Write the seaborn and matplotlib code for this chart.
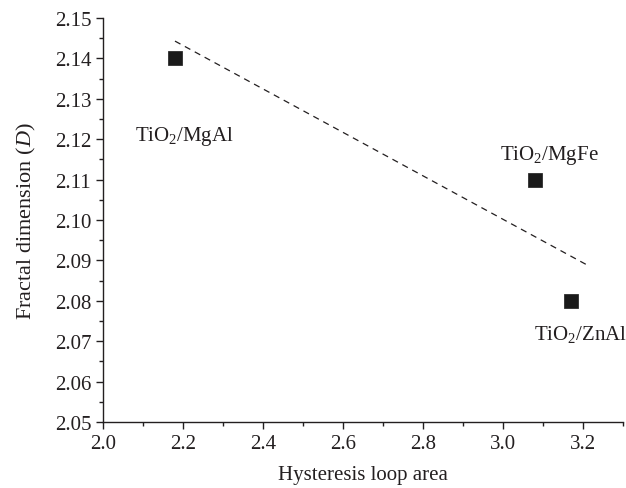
import pandas as pd
import matplotlib
matplotlib.use('Agg')
import matplotlib.pyplot as plt
from matplotlib.ticker import MultipleLocator, FormatStrFormatter
import seaborn as sns

# Data
samples = ['TiO$_2$/MgAl', 'TiO$_2$/MgFe', 'TiO$_2$/ZnAl']
loop_area = [2.18, 3.08, 3.17]
fractal_d = [2.140, 2.110, 2.080]

# Dashed fit line end points
fit_x = [2.18, 3.21]
fit_y = [2.1443, 2.0889]

# Label anchor positions (data coords)
label_x = [2.203, 3.115, 3.193]
label_y = [2.121, 2.1163, 2.0718]

df = pd.DataFrame({'area': loop_area, 'D': fractal_d, 'sample': samples})
fit = pd.DataFrame({'x': fit_x, 'y': fit_y})

sns.set_style('ticks')
plt.rcParams['font.family'] = ['Liberation Serif', 'DejaVu Serif']
plt.rcParams['mathtext.fontset'] = 'custom'
plt.rcParams['mathtext.rm'] = 'Liberation Serif'
plt.rcParams['mathtext.it'] = 'Liberation Serif:italic'

ink = '#231f20'

fig = plt.figure(figsize=(6.26, 4.89), dpi=100)
ax = fig.add_axes([0.1645, 0.135, 0.8305, 0.826])

sns.lineplot(data=fit, x='x', y='y', ax=ax, color=ink, lw=0.9,
             linestyle=(0, (5, 4)))
sns.scatterplot(data=df, x='area', y='D', ax=ax, marker='s', s=100,
                color='#1a1a1a', edgecolor='#1a1a1a', linewidth=0.5, zorder=3)

for name, tx, ty in zip(samples, label_x, label_y):
    ax.text(tx, ty, name, ha='center', va='center', fontsize=15, color=ink)

ax.set_xlim(2.0, 3.3)
ax.set_ylim(2.05, 2.15)
ax.xaxis.set_major_locator(MultipleLocator(0.2))
ax.xaxis.set_minor_locator(MultipleLocator(0.1))
ax.yaxis.set_major_locator(MultipleLocator(0.01))
ax.yaxis.set_minor_locator(MultipleLocator(0.005))
ax.xaxis.set_major_formatter(FormatStrFormatter('%.1f'))
ax.yaxis.set_major_formatter(FormatStrFormatter('%.2f'))

ax.tick_params(which='major', length=5, width=1, colors=ink, labelsize=15, direction='out')
ax.tick_params(which='minor', length=3, width=1, colors=ink, direction='out')
for side in ['left', 'bottom']:
    ax.spines[side].set_color(ink)
    ax.spines[side].set_linewidth(1)
sns.despine(ax=ax)

ax.set_xlabel('Hysteresis loop area', fontsize=15, color=ink, labelpad=9)
ax.set_ylabel('Fractal dimension ($\\it{D}$)', fontsize=16, color=ink, labelpad=12)

fig.savefig('out.png', dpi=100)
